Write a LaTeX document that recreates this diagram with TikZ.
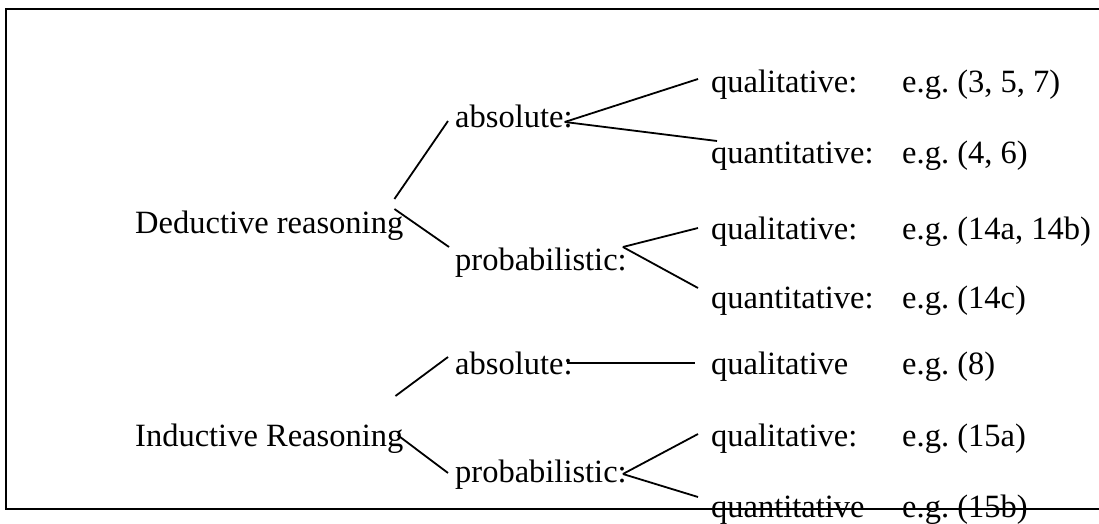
\documentclass[tikz,border=0pt]{standalone}
\usepackage{fontspec}
\setmainfont{Liberation Serif}
\frenchspacing
\begin{document}
\begin{tikzpicture}[x=1pt,y=-1pt,
  lbl/.style={anchor=base west,inner sep=0pt,font=\fontsize{32.5}{38}\selectfont},
  conn/.style={line width=1.8pt},
  frame/.style={line width=2.2pt}]
\useasboundingbox (0,0) rectangle (1099,524);
\draw[frame] (1102,9) -- (6,9) -- (6,509) -- (1102,509);
% first level
\node[lbl] (ded) at (135,233) {Deductive reasoning};
\node[lbl] (ind) at (135,446) {Inductive Reasoning};
% second level
\node[lbl] (abs1) at (455,128) {absolute:};
\node[lbl] (prob1) at (455,270) {probabilistic:};
\node[lbl] (abs2) at (455,374) {absolute:};
\node[lbl] (prob2) at (455,482) {probabilistic:};
% third level
\node[lbl] (ql1) at (711,93) {qualitative:};
\node[lbl] (qn1) at (711,163) {quantitative:};
\node[lbl] (ql2) at (711,239) {qualitative:};
\node[lbl] (qn2) at (711,308) {quantitative:};
\node[lbl] (ql3) at (711,374) {qualitative};
\node[lbl] (ql4) at (711,446) {qualitative:};
\node[lbl] (qn3) at (711,517) {quantitative};
% examples
\node[lbl] (eg1) at (902,93) {e.g. (3, 5, 7)};
\node[lbl] (eg2) at (902,163) {e.g. (4, 6)};
\node[lbl] (eg3) at (902,239) {e.g. (14a, 14b)};
\node[lbl] (eg4) at (902,308) {e.g. (14c)};
\node[lbl] (eg5) at (902,374) {e.g. (8)};
\node[lbl] (eg6) at (902,446) {e.g. (15a)};
\node[lbl] (eg7) at (902,517) {e.g. (15b)};
% connectors
\draw[conn] ([shift={(-9,-34)}]ded.base east) -- ([shift={(-7,-7)}]abs1.base west);
\draw[conn] ([shift={(-9,-24)}]ded.base east) -- ([shift={(-6,-23)}]prob1.base west);
\draw[conn] ([shift={(-8,-6)}]abs1.base east) -- ([shift={(-13,-14)}]ql1.base west);
\draw[conn] ([shift={(-8,-6)}]abs1.base east) -- ([shift={(6,-22)}]qn1.base west);
\draw[conn] ([shift={(-4,-23)}]prob1.base east) -- ([shift={(-13,-11)}]ql2.base west);
\draw[conn] ([shift={(-4,-23)}]prob1.base east) -- ([shift={(-13,-20)}]qn2.base west);
\draw[conn] ([shift={(-8,-50)}]ind.base east) -- ([shift={(-7,-17)}]abs2.base west);
\draw[conn] ([shift={(-6,-11)}]abs2.base east) -- ([shift={(-16,-11)}]ql3.base west);
\draw[conn] ([shift={(-6,-11)}]ind.base east) -- ([shift={(-7,-9)}]prob2.base west);
\draw[conn] ([shift={(-4,-8)}]prob2.base east) -- ([shift={(-13,-12)}]ql4.base west);
\draw[conn] ([shift={(-4,-8)}]prob2.base east) -- ([shift={(-13,-20)}]qn3.base west);
\end{tikzpicture}
\end{document}
